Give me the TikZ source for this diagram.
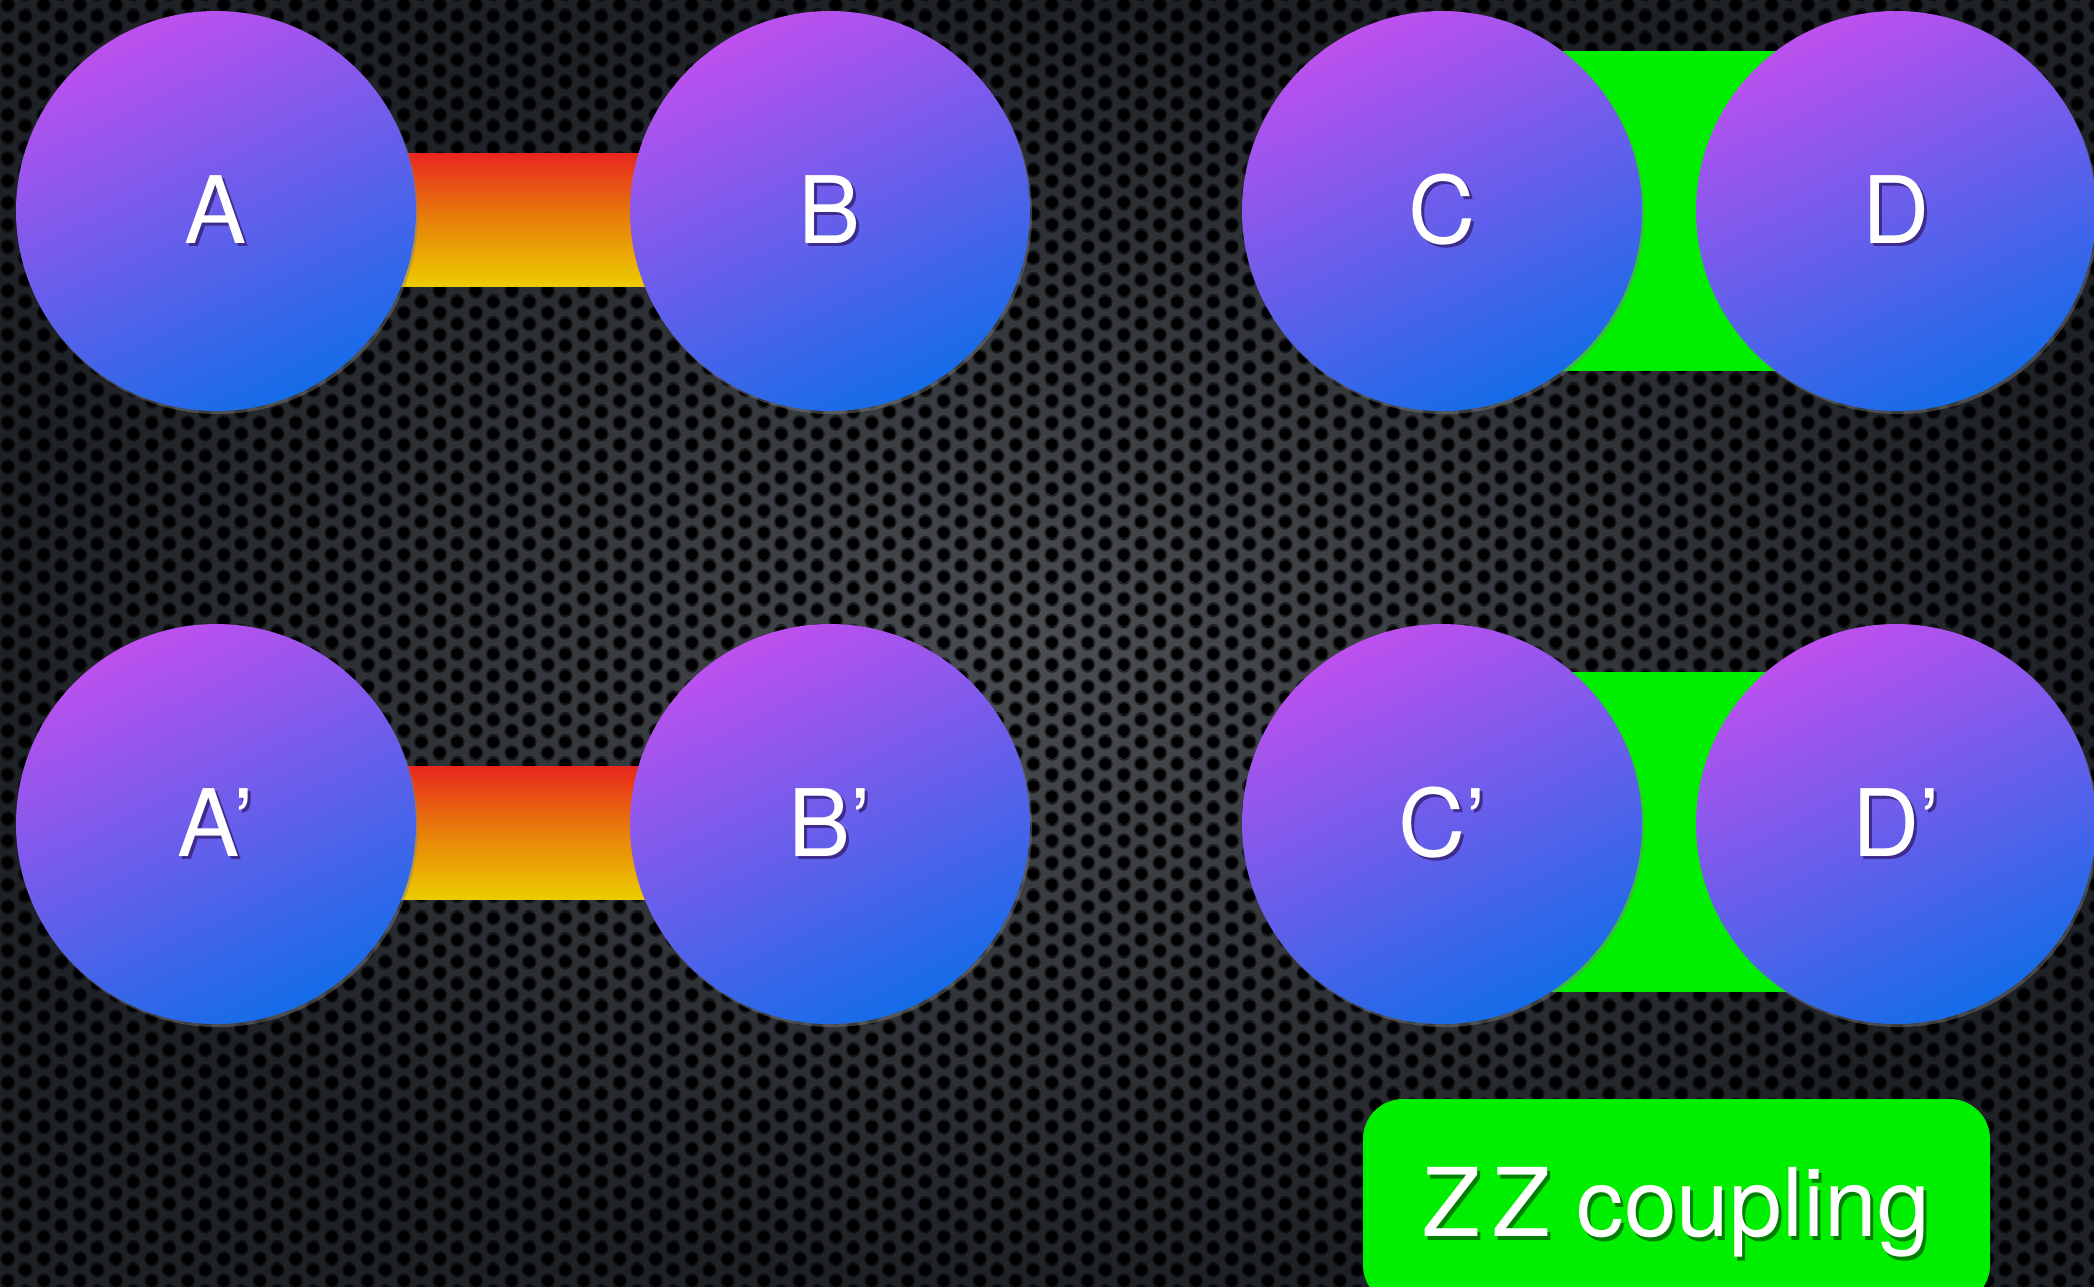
\documentclass[tikz,border=0pt]{standalone}
\usepackage{fontspec}
\setmainfont{TeX Gyre Heros}
\usetikzlibrary{calc,shadows,patterns}

\definecolor{qpurple}{RGB}{190,80,238}
\definecolor{qblue}{RGB}{20,108,232}
\definecolor{barred}{RGB}{232,38,30}
\definecolor{barorange}{RGB}{232,128,10}
\definecolor{baryellow}{RGB}{236,204,0}
\definecolor{zzgreen}{RGB}{0,238,0}
\definecolor{metal}{RGB}{74,77,82}
\definecolor{metaldark}{RGB}{30,33,38}
\definecolor{lblshadow}{RGB}{62,44,140}
\definecolor{zzshadow}{RGB}{0,128,0}

\pgfdeclarelayer{bg}
\pgfdeclarelayer{links}
\pgfsetlayers{bg,links,main}

% perforated sheet: holes on a hexagonal grid
\pgfdeclarepatternformonly{holes}{\pgfpointorigin}{\pgfpoint{0.36cm}{0.217cm}}{\pgfpoint{0.36cm}{0.217cm}}{
  \pgfpathcircle{\pgfpoint{0.09cm}{0.054cm}}{0.058cm}
  \pgfpathcircle{\pgfpoint{0.09cm}{0.271cm}}{0.058cm}
  \pgfpathcircle{\pgfpoint{0.27cm}{0.1625cm}}{0.058cm}
  \pgfpathcircle{\pgfpoint{0.27cm}{-0.0545cm}}{0.058cm}
  \pgfusepath{fill}
}
\pgfdeclarepatternformonly{holesoft}{\pgfpointorigin}{\pgfpoint{0.36cm}{0.217cm}}{\pgfpoint{0.36cm}{0.217cm}}{
  \pgfpathcircle{\pgfpoint{0.09cm}{0.054cm}}{0.076cm}
  \pgfpathcircle{\pgfpoint{0.09cm}{0.271cm}}{0.076cm}
  \pgfpathcircle{\pgfpoint{0.27cm}{0.1625cm}}{0.076cm}
  \pgfpathcircle{\pgfpoint{0.27cm}{-0.0545cm}}{0.076cm}
  \pgfusepath{fill}
}

% white text with a dark copy just below it
\newcommand{\shadowtext}[2]{\leavevmode\rlap{\hspace{0.03cm}\raisebox{-0.035cm}{\textcolor{#1}{#2}}}#2}

\begin{document}
\begin{tikzpicture}[
  qubit/.style={circle, minimum size=4cm, inner sep=0pt,
    drop shadow={opacity=0.45, shadow xshift=0.02cm, shadow yshift=-0.03cm},
    top color=qpurple, bottom color=qblue, shading angle=25,
    text=white, font=\fontsize{26.5pt}{30pt}\selectfont},
  bar/.style={top color=barred, bottom color=baryellow, middle color=barorange},
  zzbox/.style={fill=zzgreen, rounded corners=0.4cm, minimum width=6.27cm,
    minimum height=2.06cm, text depth=0pt, text=white,
    font=\fontsize{27pt}{30pt}\selectfont}]
  \useasboundingbox (0,0) rectangle (20.94,-12.86);

  \begin{pgfonlayer}{bg}
    \shade[inner color=metal, outer color=metaldark] (0,0) rectangle (20.94,-12.86);
    \fill[pattern=holesoft, pattern color=black, opacity=0.5] (0,0) rectangle (20.94,-12.86);
    \fill[pattern=holes, pattern color=black] (0,0) rectangle (20.94,-12.86);
  \end{pgfonlayer}

  % top row
  \node[qubit] (A) at (2.16,-2.11) {\shadowtext{lblshadow}{A}};
  \node[qubit] (B) at (8.30,-2.11) {\shadowtext{lblshadow}{B}};
  \node[qubit] (C) at (14.42,-2.11) {\shadowtext{lblshadow}{C}};
  \node[qubit] (D) at (18.96,-2.11) {\shadowtext{lblshadow}{D}};
  % bottom row
  \node[qubit] (Ap) at (2.16,-8.24) {\shadowtext{lblshadow}{A’}};
  \node[qubit] (Bp) at (8.30,-8.24) {\shadowtext{lblshadow}{B’}};
  \node[qubit] (Cp) at (14.42,-8.24) {\shadowtext{lblshadow}{C’}};
  \node[qubit] (Dp) at (18.96,-8.24) {\shadowtext{lblshadow}{D’}};

  \begin{pgfonlayer}{links}
    \shade[bar] ($(A.center)+(0,0.58)$) rectangle ($(B.center)+(0,-0.75)$);
    \shade[bar] ($(Ap.center)+(0,0.58)$) rectangle ($(Bp.center)+(0,-0.75)$);
    \fill[zzgreen] ($(C.center)+(0,1.60)$) rectangle ($(D.center)+(0,-1.60)$);
    \fill[zzgreen] ($(Cp.center)+(0,1.52)$) rectangle ($(Dp.center)+(0,-1.68)$);
  \end{pgfonlayer}

  \node[zzbox] (zz) at (16.765,-12.02) {\shadowtext{zzshadow}{Z\kern0.12em Z coupling}};
\end{tikzpicture}
\end{document}
